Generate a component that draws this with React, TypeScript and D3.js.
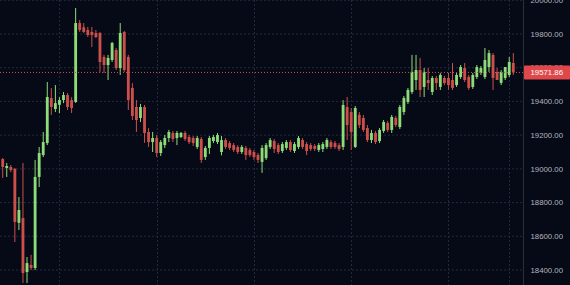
import React from "react";
import * as d3 from "d3";

const opens = [19058,19005,19011,19000,18680,18708,18388,18430,18412,18952,19082,19153,19420,19355,19380,19408,19438,19408,19397,19865,19840,19824,19812,19806,19806,19664,19616,19646,19705,19598,19812,19664,19480,19367,19302,19367,19219,19159,19183,19094,19141,19183,19213,19183,19189,19213,19189,19183,19130,19177,19070,19124,19165,19159,19100,19171,19153,19141,19130,19100,19124,19112,19100,19082,19041,19064,19130,19165,19141,19106,19124,19159,19106,19130,19171,19147,19141,19136,19112,19118,19130,19159,19153,19141,19130,19367,19337,19130,19320,19302,19242,19171,19213,19165,19225,19272,19231,19302,19248,19337,19397,19456,19527,19586,19486,19527,19456,19539,19486,19539,19539,19527,19497,19545,19598,19545,19486,19545,19569,19545,19604,19676,19575,19510,19539,19557,19628];
const highs = [19064,19035,19023,19005,18833,19035,18477,18490,19053,19130,19219,19515,19480,19497,19425,19456,19450,19425,19954,19883,19865,19842,19842,19824,19812,19676,19676,19753,19717,19865,19818,19676,19509,19408,19385,19379,19242,19219,19201,19171,19201,19231,19225,19225,19219,19225,19201,19195,19195,19189,19136,19195,19201,19213,19195,19183,19165,19153,19141,19141,19136,19124,19112,19094,19141,19153,19183,19177,19153,19159,19171,19171,19159,19195,19183,19159,19153,19147,19153,19159,19183,19171,19165,19153,19408,19426,19361,19373,19337,19320,19260,19231,19225,19242,19290,19284,19320,19314,19379,19432,19480,19676,19676,19658,19598,19598,19551,19551,19569,19551,19569,19628,19569,19616,19628,19557,19569,19616,19610,19717,19705,19687,19598,19586,19604,19664,19687];
const lows = [18946,18952,18981,18566,18637,18323,18323,18400,18400,18892,19070,19141,19320,19337,19331,19390,19349,19331,19391,19812,19806,19782,19723,19776,19575,19569,19527,19634,19586,19557,19575,19349,19290,19219,19278,19154,19130,19100,19070,19076,19124,19159,19159,19141,19183,19165,19147,19136,19118,19035,19053,19088,19153,19147,19080,19118,19112,19100,19088,19088,19053,19070,19053,19035,18976,19053,19118,19094,19088,19094,19112,19100,19094,19118,19118,19082,19106,19106,19100,19100,19118,19118,19118,19106,19112,19171,19112,19124,19242,19219,19159,19153,19147,19153,19213,19219,19213,19248,19236,19320,19385,19444,19468,19426,19426,19468,19438,19468,19468,19497,19468,19468,19486,19533,19515,19468,19474,19533,19557,19533,19575,19468,19527,19497,19527,19545,19557];
const closes = [19011,19017,18993,18685,18756,18382,18441,18412,18952,19094,19159,19426,19367,19390,19408,19438,19367,19361,19865,19824,19812,19794,19794,19782,19634,19616,19658,19747,19598,19806,19586,19408,19314,19290,19367,19213,19159,19183,19094,19159,19183,19219,19177,19213,19213,19177,19159,19153,19183,19053,19124,19183,19189,19201,19171,19130,19124,19112,19100,19130,19082,19082,19070,19053,19124,19141,19171,19118,19100,19147,19159,19112,19147,19183,19130,19106,19118,19118,19141,19147,19171,19130,19130,19118,19379,19260,19219,19361,19260,19231,19171,19213,19159,19231,19278,19231,19308,19260,19367,19420,19468,19575,19586,19468,19575,19509,19539,19509,19557,19509,19497,19480,19557,19604,19527,19480,19557,19604,19598,19646,19687,19539,19527,19575,19604,19634,19571.86];

const priceTicks = [18400, 18600, 18800, 19000, 19200, 19400, 19600, 19800, 20000];
const timeGridIdx = [14, 38, 62, 86, 110, 125];
const lastPrice = 19571.86;

const W = 570;
const H = 285;
const AXIS_X = 523;

const GREEN = "#8ddc78";
const RED = "#cd4f4b";

export default function App() {
  const x = d3.scaleLinear().domain([0, opens.length - 1]).range([2.7, 513.3]);
  const y = d3.scaleLinear().domain([18400, 19800]).range([270, 34]);
  const step = x(1) - x(0);
  const bw = step * 0.7;

  return (
    <div style={{ position: "fixed", left: 0, top: 0, width: W, height: H }}>
      <svg width={W} height={H} style={{ display: "block" }}>
        <rect x={0} y={0} width={W} height={H} fill="#060a17" />
        {priceTicks.map((p) => (
          <line key={"h" + p} x1={0} x2={AXIS_X} y1={y(p)} y2={y(p)} stroke="#222a3a" strokeWidth={1} strokeDasharray="2,2" />
        ))}
        {timeGridIdx.map((i) => (
          <line key={"v" + i} x1={Math.round(x(i)) + 0.5} x2={Math.round(x(i)) + 0.5} y1={0} y2={H} stroke="#222a3a" strokeWidth={1} strokeDasharray="2,2" />
        ))}
        {opens.map((o, i) => {
          const c = closes[i];
          const up = c >= o;
          const col = up ? GREEN : RED;
          const cx = x(i);
          const top = y(Math.max(o, c));
          const bot = y(Math.min(o, c));
          return (
            <g key={i}>
              <line x1={cx} x2={cx} y1={y(highs[i])} y2={y(lows[i])} stroke={col} strokeWidth={1} />
              <rect x={cx - bw / 2} y={top} width={bw} height={Math.max(1, bot - top)} fill={col} />
            </g>
          );
        })}
        <line x1={0} x2={AXIS_X} y1={y(lastPrice)} y2={y(lastPrice)} stroke="#d0504c" strokeWidth={1} strokeDasharray="1,2" />
        <line x1={AXIS_X + 0.5} x2={AXIS_X + 0.5} y1={0} y2={H} stroke="#2a2f3c" strokeWidth={1} />
        {priceTicks.map((p) => (
          <text key={"t" + p} x={530.5} y={y(p)} dy="0.35em" fill="#b3b6be" fontSize={7.8} fontFamily="'Liberation Sans', Arial, sans-serif">
            {d3.format(".2f")(p)}
          </text>
        ))}
        <rect x={AXIS_X + 1} y={y(lastPrice) - 7} width={W - AXIS_X - 1} height={14} fill="#e0474a" rx={1} />
        <text x={530.5} y={y(lastPrice)} dy="0.35em" fill="#ffffff" fontSize={7.8} fontFamily="'Liberation Sans', Arial, sans-serif">
          {d3.format(".2f")(lastPrice)}
        </text>
      </svg>
    </div>
  );
}
